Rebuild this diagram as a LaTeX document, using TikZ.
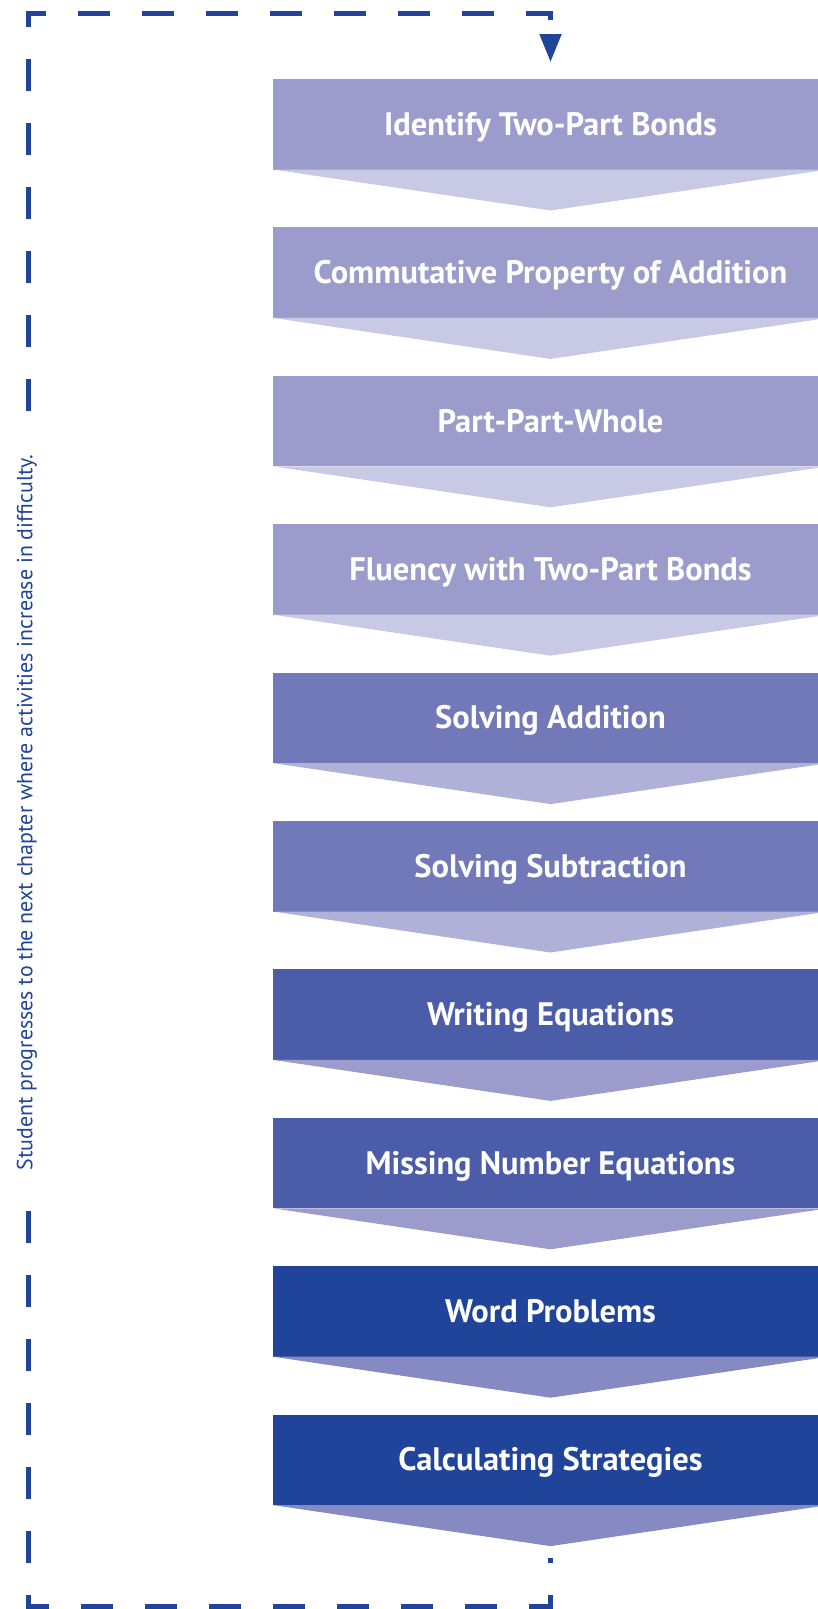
\documentclass[tikz,border=0pt]{standalone}
\usepackage{fontspec}
\setmainfont{PT Sans}
\usepackage{tikz}
\usetikzlibrary{positioning, arrows.meta}

\definecolor{loopblue}{HTML}{1F4499}
\definecolor{boxA}{HTML}{9C9CCC}
\definecolor{chevA}{HTML}{C8C9E4}
\definecolor{boxB}{HTML}{7279B9}
\definecolor{chevB}{HTML}{AFB1D9}
\definecolor{boxC}{HTML}{4B5CA8}
\definecolor{chevC}{HTML}{9C9CCC}
\definecolor{boxD}{HTML}{1F4499}
\definecolor{chevD}{HTML}{868AC3}

\tikzset{
    stepbox/.style={minimum width=555pt, minimum height=90.5pt, outer sep=0pt, inner sep=0pt,
        text=white, text height=22pt, text depth=0pt, font=\fontsize{32.5}{34}\selectfont\bfseries},
    loop line/.style={draw=loopblue, line width=5pt, dash pattern=on 32pt off 32pt, dash phase=27pt},
}

\begin{document}
\begin{tikzpicture}[x=1pt, y=-1pt, node distance=57.9pt]
    \useasboundingbox (0,0) rectangle (818,1609);
    \clip (0,0) rectangle (818,1609);

    \node[stepbox, fill=boxA] (identify) at (550.5,124.25) {Identify Two-Part Bonds};
    \node[stepbox, fill=boxA, below=of identify] (commutative) {Commutative Property of Addition};
    \node[stepbox, fill=boxA, below=of commutative] (part whole) {Part-Part-Whole};
    \node[stepbox, fill=boxA, below=of part whole] (fluency) {Fluency with Two-Part Bonds};
    \node[stepbox, fill=boxB, below=of fluency] (addition) {Solving Addition};
    \node[stepbox, fill=boxB, below=of addition] (subtraction) {Solving Subtraction};
    \node[stepbox, fill=boxC, below=of subtraction] (writing) {Writing Equations};
    \node[stepbox, fill=boxC, below=of writing] (missing) {Missing Number Equations};
    \node[stepbox, fill=boxD, below=of missing] (word problems) {Word Problems};
    \node[stepbox, fill=boxD, below=of word problems] (strategies) {Calculating Strategies};

    % chevrons under each step
    \foreach \b/\c in {identify/chevA, commutative/chevA, part whole/chevA, fluency/chevA,
        addition/chevB, subtraction/chevB, writing/chevC, missing/chevC,
        word problems/chevD, strategies/chevD}
        \fill[\c] (\b.south west) -- (\b.south east) -- ([yshift=-41pt]\b.south) -- cycle;

    % loop back to the first step
    \coordinate (loop start) at ([yshift=-53pt]strategies.south);
    \coordinate (loop end) at ([yshift=17pt]identify.north);
    \coordinate (bottom left) at (28,1606);
    \coordinate (top left) at (28,13);
    \draw[loop line, -{Triangle[length=28pt, width=21pt]}] (loop start) -- (loop start |- bottom left)
        -- (bottom left) -- (top left) -- (loop end |- top left) -- (loop end);

    \node[fill=white, rotate=90, inner xsep=14pt, inner ysep=2pt, text=loopblue,
        font=\fontsize{21.9}{23}\selectfont] (note) at (27,812.5)
        {Student progresses to the next chapter where activities increase in difficulty.};
\end{tikzpicture}
\end{document}
